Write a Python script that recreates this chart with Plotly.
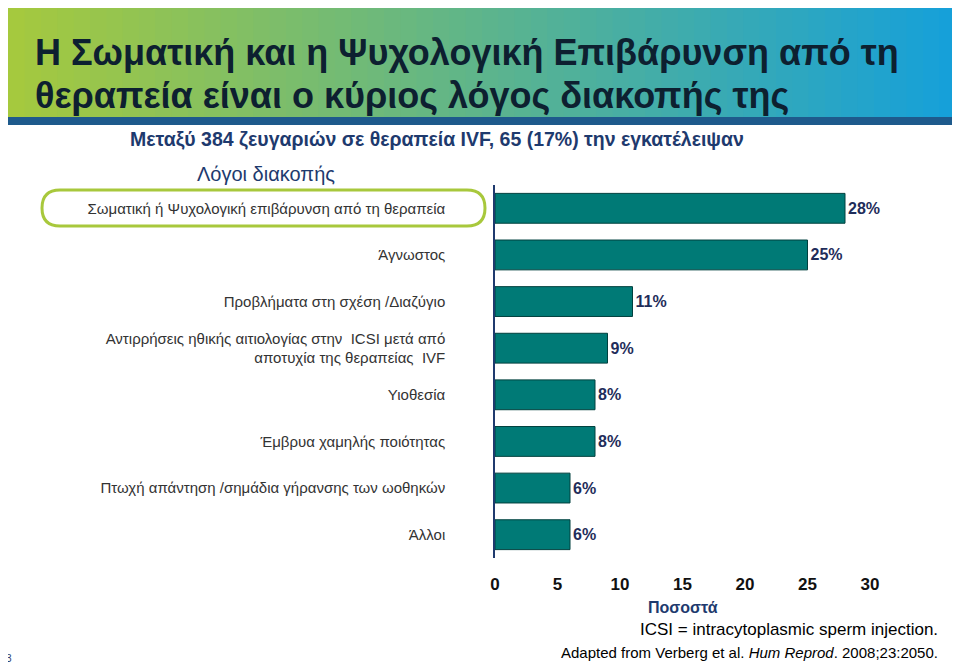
import plotly.graph_objects as go

categories = ["Σωματική ή Ψυχολογική επιβάρυνση από τη θεραπεία", "Άγνωστος",
              "Προβλήματα στη σχέση /Διαζύγιο",
              "Αντιρρήσεις ηθικής αιτιολογίας στην  ICSI μετά από<br>αποτυχία της θεραπείας  IVF",
              "Υιοθεσία", "Έμβρυα χαμηλής ποιότητας",
              "Πτωχή απάντηση /σημάδια γήρανσης των ωοθηκών", "Άλλοι"]
values = [28, 25, 11, 9, 8, 8, 6, 6]
ticks = [0, 5, 10, 15, 20, 25, 30]

F = "Liberation Sans"
O = 8  # page body margin offset
W, H = 960 - 2 * O, 670 - 2 * O
L, R, T, B = 495, 870, 185, 558  # plot area in screen px

fig = go.Figure(go.Bar(
    y=categories, x=values, orientation="h", width=0.64,
    marker=dict(color="#007a76", line=dict(color="#00403e", width=1)),
    text=[f"<b>{v}%</b>" for v in values], textposition="outside",
    textfont=dict(size=16, color="#1f2d5a", family=F),
    cliponaxis=False))

def px(x): return (x - L) / (R - L)
def py(y): return (B - y) / (B - T)

shapes = []
n = 60
c0, c1 = (168, 202, 60), (20, 160, 220)
for i in range(n):
    t = i / (n - 1)
    col = "rgb(%d,%d,%d)" % tuple(int(a + (b - a) * t) for a, b in zip(c0, c1))
    shapes.append(dict(type="rect", xref="paper", yref="paper", layer="below",
                       x0=px(-O + 980 * i / n), x1=px(-O + 980 * (i + 1) / n + 1),
                       y0=py(117), y1=py(-O), fillcolor=col, line=dict(width=0)))
shapes.append(dict(type="rect", xref="paper", yref="paper", x0=px(-O), x1=px(970),
                   y0=py(125), y1=py(117), fillcolor="#1e5a8c", line=dict(width=0)))
x0, x1, y0, y1, r = px(42), px(485), py(190), py(226), 18
rx, ry = r / (R - L), r / (B - T)
path = (f"M {x0+rx},{y0} L {x1-rx},{y0} Q {x1},{y0} {x1},{y0-ry} L {x1},{y1+ry} "
        f"Q {x1},{y1} {x1-rx},{y1} L {x0+rx},{y1} Q {x0},{y1} {x0},{y1+ry} "
        f"L {x0},{y0-ry} Q {x0},{y0} {x0+rx},{y0} Z")
shapes.append(dict(type="path", xref="paper", yref="paper", path=path,
                   line=dict(color="#a8c83c", width=3)))

def ann(x, y, text, size, color, anchor="left", bold=False):
    return dict(xref="paper", yref="paper", x=px(x), y=py(y), text=f"<b>{text}</b>" if bold else text,
                showarrow=False, xanchor=anchor, yanchor="middle",
                font=dict(size=size, color=color, family=F))

annotations = [
    ann(33, 52, "Η Σωματική και η Ψυχολογική Επιβάρυνση από τη", 36, "#0d2030", bold=True),
    ann(33, 95, "θεραπεία είναι ο κύριος λόγος διακοπής της", 36, "#0d2030", bold=True),
    ann(128, 139, "Μεταξύ 384 ζευγαριών σε θεραπεία IVF, 65 (17%) την εγκατέλειψαν", 19.5, "#1e3a6e", bold=True),
    ann(195, 174, "Λόγοι διακοπής", 20, "#1e3a6e"),
    ann(683, 607, "Ποσοστά", 16, "#1e3a6e", anchor="center", bold=True),
    ann(940, 629, "ICSI = intracytoplasmic sperm injection.", 17, "#000000", anchor="right"),
    ann(940, 652, "Adapted from Verberg et al. <i>Hum Reprod</i>. 2008;23:2050.", 15, "#000000", anchor="right"),
    ann(4, 658, "3", 10, "#1e3a6e"),
]

fig.update_layout(
    width=W, height=H,
    margin=dict(l=L - O, r=W - (R - O), t=T - O, b=H - (B - O)),
    plot_bgcolor="white", paper_bgcolor="white", showlegend=False,
    shapes=shapes, annotations=annotations,
    xaxis=dict(range=[0, 30], tickvals=ticks, showgrid=False, zeroline=False, showline=False,
               ticks="", tickfont=dict(size=17, color="#111", family=F, weight="bold"),
               ticklabelstandoff=14),
    yaxis=dict(autorange="reversed", showgrid=False, showline=True, linecolor="#1f3a6e",
               linewidth=1.5, ticks="", ticklabelstandoff=45,
               tickfont=dict(size=15, color="#333", family=F)),
)
fig.write_html("out.html")
